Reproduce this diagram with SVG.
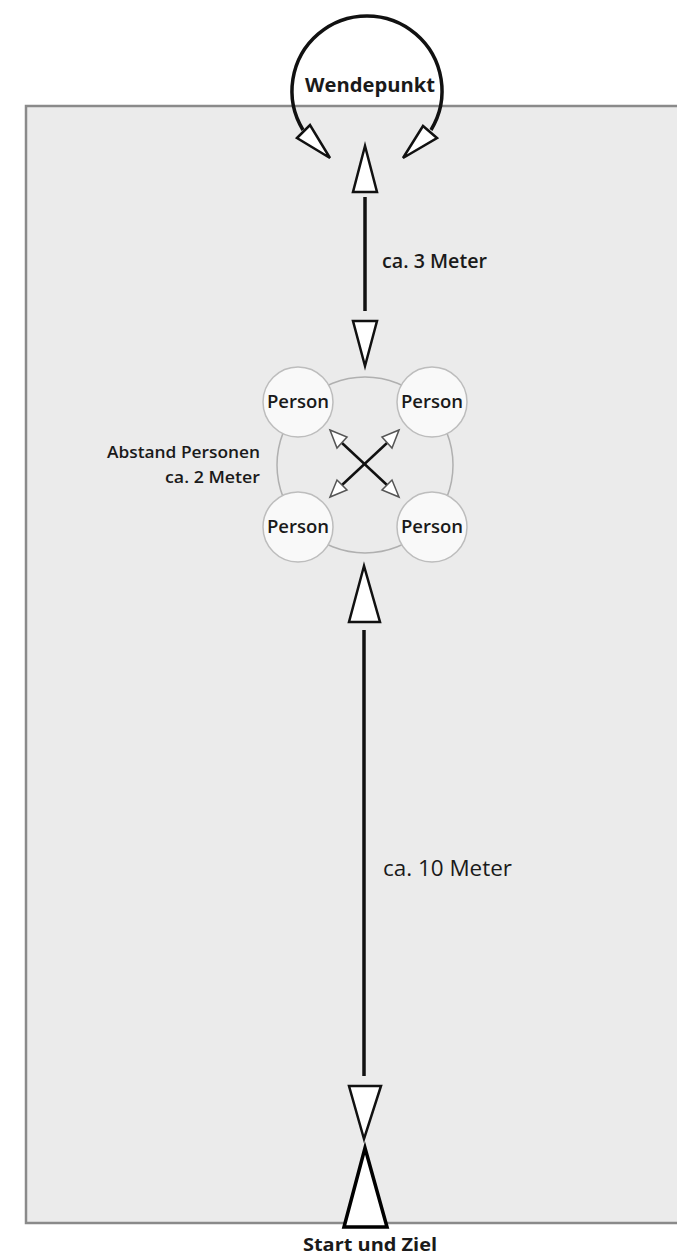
<svg xmlns="http://www.w3.org/2000/svg" width="677" height="1257" viewBox="0 0 677 1257">
<style>
.t{font-family:"Open Sans","Liberation Sans",sans-serif;fill:#1a1a1a}
.line{stroke:#111;stroke-width:3.5;fill:none}
.head{fill:#fff;stroke:#111;stroke-width:2.5;stroke-linejoin:miter}
.shead{fill:#fff;stroke:#555;stroke-width:1.5}
.person{fill:#f9f9f9;stroke:#bdbdbd;stroke-width:1.5}
</style>
<rect width="677" height="1257" fill="#fff"/>
<g id="field">
<rect x="26" y="106" width="680" height="1117" fill="#ebebeb" stroke="#8a8a8a" stroke-width="2.5"/>
</g>
<g id="connectors">
<path class="line" d="M303,130 A75,75 0 1 1 431,130" stroke-width="3"/>
<polygon class="head" points="297,138 310,125 330,158"/>
<polygon class="head" points="437,138 423,126 403,158"/>
<line class="line" x1="365" y1="197" x2="365" y2="311"/>
<polygon class="head" points="365,146 353,192 377,192"/>
<polygon class="head" points="353,321 377,321 365,366"/>
<line class="line" x1="364" y1="630" x2="364" y2="1076"/>
<polygon class="head" points="364,566 349,622 380,622"/>
<polygon class="head" points="349,1086 381,1086 364,1139"/>
<g id="cross">
<line x1="342" y1="443" x2="387" y2="485" stroke="#111" stroke-width="2.5"/>
<line x1="387" y1="443" x2="342" y2="485" stroke="#111" stroke-width="2.5"/>
<polygon class="shead" points="330,430 347,437 337,448"/>
<polygon class="shead" points="399,430 382,437 392,448"/>
<polygon class="shead" points="330,497 337,480 347,490"/>
<polygon class="shead" points="399,497 392,480 382,490"/>
</g>
</g>
<g id="group">
<circle cx="365" cy="465" r="88" fill="none" stroke="#b0b0b0" stroke-width="1.5"/>
</g>
<g id="person-tl"><circle class="person" cx="298" cy="402" r="35"/><text class="t" x="298" y="408" font-size="18.5" font-weight="600" text-anchor="middle">Person</text></g>
<g id="person-tr"><circle class="person" cx="432" cy="402" r="35"/><text class="t" x="432" y="408" font-size="18.5" font-weight="600" text-anchor="middle">Person</text></g>
<g id="person-bl"><circle class="person" cx="298" cy="527" r="35"/><text class="t" x="298" y="533" font-size="18.5" font-weight="600" text-anchor="middle">Person</text></g>
<g id="person-br"><circle class="person" cx="432" cy="527" r="35"/><text class="t" x="432" y="533" font-size="18.5" font-weight="600" text-anchor="middle">Person</text></g>
<g id="wendepunkt"><text class="t" x="370" y="92" font-size="20" font-weight="700" text-anchor="middle" textLength="130" lengthAdjust="spacingAndGlyphs">Wendepunkt</text></g>
<g id="label-3m"><text class="t" x="382" y="268" font-size="19" font-weight="600" textLength="105" lengthAdjust="spacingAndGlyphs">ca. 3 Meter</text></g>
<g id="label-abstand">
<text class="t" x="260" y="458" font-size="16" font-weight="600" text-anchor="end" textLength="153" lengthAdjust="spacingAndGlyphs">Abstand Personen</text>
<text class="t" x="260" y="483" font-size="16" font-weight="600" text-anchor="end" textLength="95" lengthAdjust="spacingAndGlyphs">ca. 2 Meter</text>
</g>
<g id="label-10m"><text class="t" x="383" y="876" font-size="22" textLength="129" lengthAdjust="spacingAndGlyphs">ca. 10 Meter</text></g>
<g id="start">
<polygon points="365,1148 344,1227 387,1227" fill="#fff" stroke="#000" stroke-width="3.5"/>
<text class="t" x="370" y="1251" font-size="18" font-weight="700" text-anchor="middle" textLength="134" lengthAdjust="spacingAndGlyphs">Start und Ziel</text>
</g>
</svg>
